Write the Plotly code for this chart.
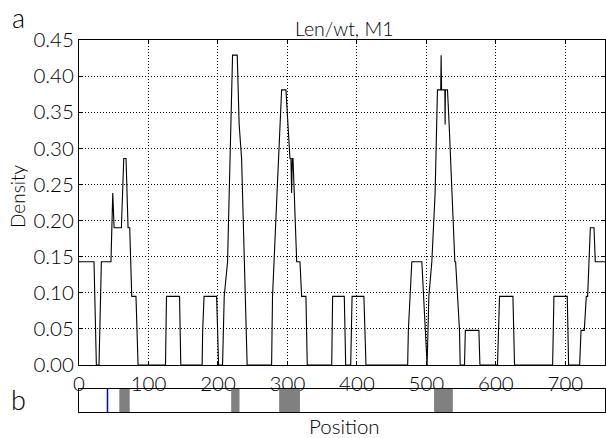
import plotly.graph_objects as go

# Density profile along the sequence (step-like trace)
position = [0, 21.6, 25, 28.8, 32.2, 46, 48.6, 50.5, 61, 64.4, 67.7, 70.6, 73, 75.9, 82, 85,
            124.5, 125.9, 144.7, 146.5,
            177.2, 178, 180, 198, 199.5, 200.8,
            206.6, 209, 213.8, 219, 221, 227.7, 230.5, 234, 239.8, 242,
            277.2, 278.5, 285, 291.6, 297.8, 301, 303.6, 305, 306, 307, 308, 313.3, 318, 320.4, 326.6, 328.5,
            363.7, 365, 381.8, 383.8, 391, 393, 410, 413,
            473, 474, 479, 493.4, 498, 500,
            501, 503.5, 507.8, 512.5, 515.9, 520.6, 521.2, 521.8, 526.5, 526.9, 527.3, 530.3, 532.7, 540.9, 542, 547.6, 548.6,
            554.8, 556, 575.5, 577,
            602.3, 605.2, 624.5, 626.8,
            681.6, 683.5, 702.7, 704.6,
            720.5, 722.5, 727.2, 730.1, 732, 735.9, 741.2, 743, 757]
density = [0.143, 0.143, 0.0, 0.0, 0.143, 0.143, 0.238, 0.190, 0.190, 0.286, 0.286, 0.190, 0.190, 0.095, 0.095, 0.0,
           0.0, 0.095, 0.095, 0.0,
           0.0, 0.048, 0.095, 0.095, 0.048, 0.0,
           0.0, 0.095, 0.143, 0.381, 0.429, 0.429, 0.333, 0.286, 0.048, 0.0,
           0.0, 0.095, 0.238, 0.381, 0.381, 0.333, 0.286, 0.286, 0.238, 0.286, 0.286, 0.143, 0.143, 0.095, 0.095, 0.0,
           0.0, 0.095, 0.095, 0.0, 0.0, 0.095, 0.095, 0.0,
           0.0, 0.048, 0.143, 0.143, 0.048, 0.0,
           0.0, 0.095, 0.143, 0.238, 0.381, 0.381, 0.429, 0.381, 0.381, 0.333, 0.381, 0.381, 0.333, 0.143, 0.143, 0.048, 0.0,
           0.0, 0.048, 0.048, 0.0,
           0.0, 0.095, 0.095, 0.0,
           0.0, 0.095, 0.095, 0.0,
           0.0, 0.048, 0.048, 0.095, 0.095, 0.190, 0.190, 0.143, 0.143]

# Annotated regions on the sequence track
region_start = [58, 219, 288, 511]
region_end = [73, 231, 318, 538]
marker_position = [41]

x_ticks = [0, 100, 200, 300, 400, 500, 600, 700]
y_ticks = [0.00, 0.05, 0.10, 0.15, 0.20, 0.25, 0.30, 0.35, 0.40, 0.45]

X_MAX = 757
FONT = "Lato"
W, H = 606, 438
ML, MR = 79, 1
PW = W - ML - MR

fig = go.Figure()
fig.add_trace(go.Scatter(x=position, y=density, mode="lines",
                         line=dict(color="black", width=1.1),
                         xaxis="x", yaxis="y", showlegend=False, hoverinfo="skip"))

# Sequence track: grey regions and a blue marker
for s, e in zip(region_start, region_end):
    fig.add_shape(type="rect", xref="x2", yref="y2", x0=s, x1=e, y0=0, y1=1,
                  fillcolor="#808080", line=dict(width=0), layer="below")
for m in marker_position:
    fig.add_shape(type="line", xref="x2", yref="y2", x0=m, x1=m, y0=0, y1=1,
                  line=dict(color="#0000ee", width=1.5))


def py(p):
    return 1 - p / H


def px(p):
    return (p - ML) / PW


grid = dict(showgrid=True, gridcolor="black", griddash="1px,2px", gridwidth=1)
tickfont = dict(size=20.5, family=FONT, weight=300)

fig.update_layout(
    template="none",
    width=W, height=H,
    margin=dict(l=ML, r=MR, t=0, b=0, autoexpand=False),
    paper_bgcolor="white", plot_bgcolor="white",
    font=dict(family=FONT, color="black", weight=300),
    xaxis=dict(domain=[0, 1], range=[0, X_MAX], tickvals=x_ticks, automargin=False,
               ticks="inside", ticklen=4, tickcolor="black",
               showline=True, linecolor="black", linewidth=1, mirror="ticks",
               zeroline=False, tickfont=tickfont, anchor="y", **grid),
    yaxis=dict(domain=[py(365), py(40)], range=[0, 0.45], tickvals=y_ticks, automargin=False,
               tickformat=".2f", ticks="inside", ticklen=4, tickcolor="black",
               showline=True, linecolor="black", linewidth=1, mirror="ticks",
               zeroline=False, tickfont=tickfont, anchor="x", **grid),
    xaxis2=dict(domain=[0, 1], range=[0, X_MAX], showticklabels=False, ticks="", automargin=False,
                showline=True, linecolor="black", linewidth=1, mirror=True,
                showgrid=False, zeroline=False, anchor="y2"),
    yaxis2=dict(domain=[py(412), py(389)], range=[0, 1], showticklabels=False, ticks="", automargin=False,
                showline=True, linecolor="black", linewidth=1, mirror=True,
                showgrid=False, zeroline=False, anchor="x2"),
    annotations=[
        dict(text="Len/wt, M1", x=px(344), y=py(29), xref="paper", yref="paper",
             xanchor="center", yanchor="middle",
             showarrow=False, font=dict(size=19.5, family=FONT, weight=300)),
        dict(text="Density", x=px(18), y=py(197), xref="paper", yref="paper",
             xanchor="center", yanchor="middle", textangle=-90,
             showarrow=False, font=dict(size=19, family=FONT, weight=300)),
        dict(text="Position", x=px(344), y=py(426), xref="paper", yref="paper",
             xanchor="center", yanchor="middle",
             showarrow=False, font=dict(size=20.5, family=FONT, weight=300)),
        dict(text="a", x=px(18), y=py(0), xref="paper", yref="paper",
             xanchor="center", yanchor="top", borderpad=0,
             showarrow=False, font=dict(size=27, family=FONT, weight=300)),
        dict(text="b", x=px(18), y=py(399), xref="paper", yref="paper",
             xanchor="center", yanchor="middle",
             showarrow=False, font=dict(size=27, family=FONT, weight=300)),
    ],
)

fig.write_html("out.html")
